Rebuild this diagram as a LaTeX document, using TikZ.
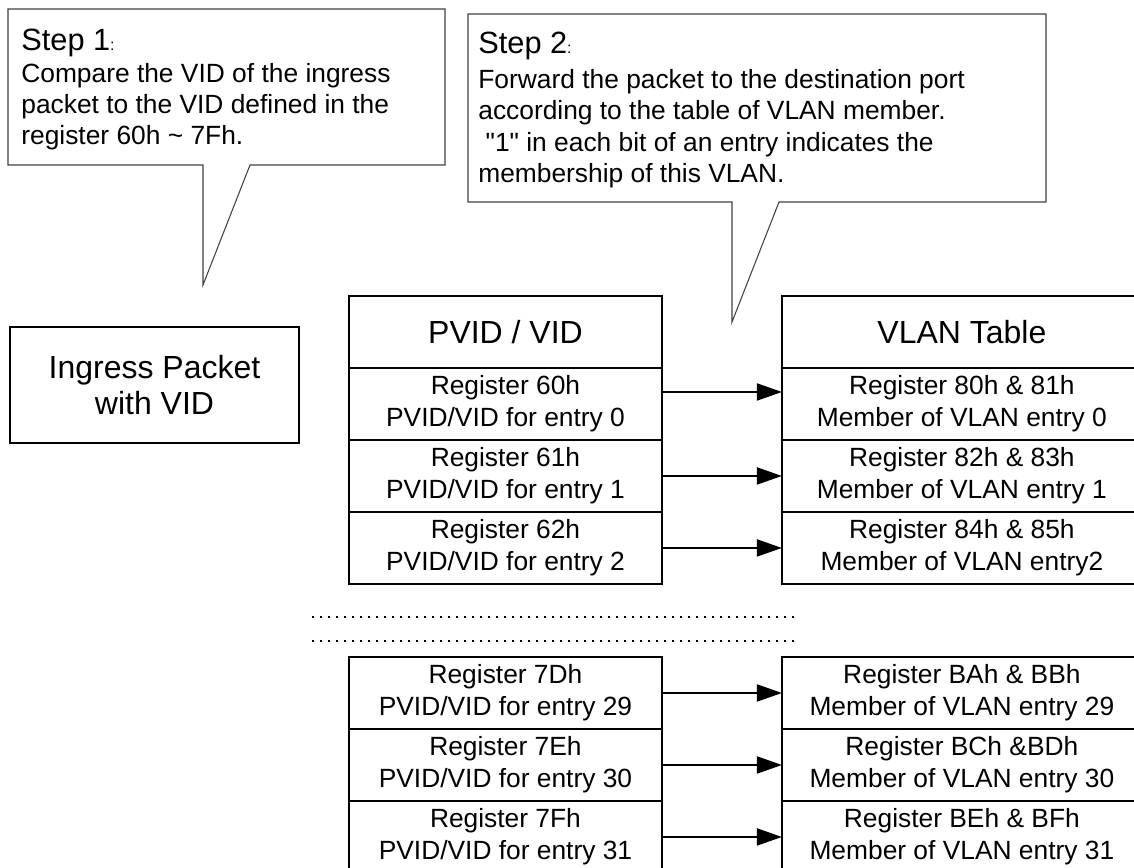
\documentclass[tikz,border=0pt]{standalone}
\usepackage{fontspec}
\setmainfont{Liberation Sans}
\newfontfamily\plainquotes{Liberation Sans}
\usetikzlibrary{positioning,arrows.meta}

\tikzset{
	tabhead/.style={draw, line width=1.1pt, minimum height=1.44cm, inner sep=0pt, outer sep=0pt, font=\fontsize{18.2}{21}\selectfont},
	tabrow/.style={draw, line width=1.1pt, minimum height=1.44cm, inner sep=0pt, outer sep=0pt, align=center, font=\fontsize{15}{18.2}\selectfont},
	pvcol/.style={minimum width=6.26cm},
	vlcol/.style={minimum width=7.2cm},
	fwd/.style={-{Triangle[length=0.5cm,width=0.34cm]}, line width=1.1pt},
	balloon/.style={draw=black!75, line width=0.6pt},
	balloontext/.style={anchor=north west, inner sep=0pt, align=left, font=\fontsize{15}{17.6}\selectfont},
	dots/.style={line width=0.04cm, dash pattern=on 0.04cm off 0.12cm},
}
\newcommand{\steptitle}[1]{{\fontsize{17.5}{20}\selectfont Step #1}{\fontsize{9}{10}\selectfont :}}

\begin{document}
\begin{tikzpicture}[x=0.02cm, y=-0.02cm]
	\clip (0,0) rectangle (1134,868);
	% callouts
	\draw[balloon] (8,9) -- (445,9) -- (445,165) -- (250,165) -- (203,285) -- (203,165) -- (8,165) -- cycle;
	\node[balloontext] (stepone) at (21,29) {\steptitle{1}\\[0.5pt]Compare the VID of the ingress\\packet to the VID defined in the\\register 60h \textasciitilde{} 7Fh.};
	\draw[balloon] (468,14) -- (1046,14) -- (1046,202) -- (779,202) -- (732,322) -- (732,202) -- (468,202) -- cycle;
	\node[balloontext, font=\fontsize{15}{18}\selectfont] (steptwo) at (478,32) {\steptitle{2}\\[1.5pt]Forward the packet to the destination port\\according to the table of VLAN member.\\\hspace*{0.28em}{\plainquotes"1"} in each bit of an entry indicates the\\membership of this VLAN.};

	\node[draw, line width=1.1pt, minimum width=5.78cm, minimum height=2.32cm, align=center, font=\fontsize{18.2}{20.5}\selectfont] (ingress) at (154.5,385) {Ingress Packet\\with VID};

	% PVID / VID column
	\node[tabhead, pvcol, anchor=north west] (pvid) at (349,296) {PVID / VID};
	\node[tabrow, pvcol, below=0pt of pvid] (pv0) {Register 60h\\PVID/VID for entry 0};
	\node[tabrow, pvcol, below=0pt of pv0] (pv1) {Register 61h\\PVID/VID for entry 1};
	\node[tabrow, pvcol, below=0pt of pv1] (pv2) {Register 62h\\PVID/VID for entry 2};
	\node[tabrow, pvcol, anchor=north west] (pv29) at (349,657) {Register 7Dh\\PVID/VID for entry 29};
	\node[tabrow, pvcol, below=0pt of pv29] (pv30) {Register 7Eh\\PVID/VID for entry 30};
	\node[tabrow, pvcol, below=0pt of pv30] (pv31) {Register 7Fh\\PVID/VID for entry 31};

	% VLAN table column
	\node[tabhead, vlcol, right=2.4cm of pvid] (vlan) {VLAN Table};
	\node[tabrow, vlcol, below=0pt of vlan] (vl0) {Register 80h \& 81h\\Member of VLAN entry 0};
	\node[tabrow, vlcol, below=0pt of vl0] (vl1) {Register 82h \& 83h\\Member of VLAN entry 1};
	\node[tabrow, vlcol, below=0pt of vl1] (vl2) {Register 84h \& 85h\\Member of VLAN entry2};
	\node[tabrow, vlcol, right=2.4cm of pv29] (vl29) {Register BAh \& BBh\\Member of VLAN entry 29};
	\node[tabrow, vlcol, below=0pt of vl29] (vl30) {Register BCh \&BDh\\Member of VLAN entry 30};
	\node[tabrow, vlcol, below=0pt of vl30] (vl31) {Register BEh \& BFh\\Member of VLAN entry 31};

	% gap between the groups
	\draw[dots] (312,617) -- (794,617);
	\draw[dots] (312,641) -- (794,641);

	\draw[fwd] ([yshift=0.24cm]pv0.east) -- ([yshift=0.24cm]vl0.west);
	\foreach \n in {1,2,29,30,31}
		\draw[fwd] (pv\n) -- (vl\n);
\end{tikzpicture}
\end{document}
